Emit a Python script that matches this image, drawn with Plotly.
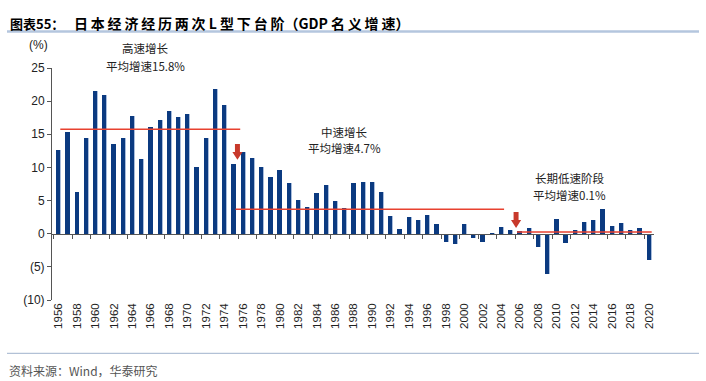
import plotly.graph_objects as go

years = list(range(1956, 2021))
growth = [12.6, 15.3, 6.3, 14.4, 21.5, 20.9, 13.5, 14.4, 17.7, 11.3,
          16.1, 17.2, 18.5, 17.6, 18.0, 10.0, 14.5, 21.9, 19.4, 10.5,
          12.3, 11.4, 10.1, 8.5, 9.6, 7.6, 5.1, 4.1, 6.1, 7.4,
          4.9, 3.85, 7.6, 7.8, 7.8, 6.3, 2.6, 0.7, 2.5, 2.1,
          2.75, 1.45, -1.3, -1.55, 1.45, -0.65, -1.3, -0.1, 1.0, 0.6,
          0.45, 0.8, -2.0, -6.1, 2.2, -1.4, 0.6, 1.7, 2.05, 3.7,
          1.2, 1.6, 0.6, 0.9, -4.0]

# period averages (start year, end year, displayed level)
avg_start = [1956.2, 1975.2, 2005.7]
avg_end = [1975.7, 2004.3, 2020.3]
avg_level = [15.75, 3.7, 0.25]

# stage labels
stage_names = ["高速增长", "中速增长", "长期低速阶段"]
stage_avgs = ["平均增速15.8%", "平均增速4.7%", "平均增速0.1%"]

# turning-point arrows (year, top, tip)
arrow_x = [1975.4, 2005.6]
arrow_top = [13.55, 3.27]
arrow_tip = [11.14, 0.86]

ytick_vals = [-10, -5, 0, 5, 10, 15, 20, 25]
ytick_text = ["(10)", "(5)", "0", "5", "10", "15", "20", "25"]
xtick_vals = list(range(1956, 2021, 2))

W, H = 706, 381
ML, MR, MT, MB = 52, 52, 68, 81
PW, PH = W - ML - MR, H - MT - MB


def px(x):
    return (x - ML) / PW


def py(y):
    return (H - MB - y) / PH


# pixel anchors for the stage labels (layout only)
stage_px = [145, 344, 569]
stage_py1 = [48, 131.5, 178]
stage_py2 = [66, 148, 195]

FONT = "Liberation Sans, Arial, Noto Sans CJK SC"
CJK = "Noto Sans CJK SC, Liberation Sans"

fig = go.Figure()

# light shadow edge of bars
fig.add_trace(go.Bar(x=years, y=growth, marker=dict(color="#A9BDDC", line=dict(width=0)),
                     width=0.48, offset=-0.20, hoverinfo="skip", showlegend=False))
fig.add_trace(go.Bar(x=years, y=growth, marker=dict(color="#0B3A80", line=dict(width=0)),
                     width=0.46, offset=-0.26, showlegend=False))

for s, e, lv in zip(avg_start, avg_end, avg_level):
    fig.add_trace(go.Scatter(x=[s, e], y=[lv, lv], mode="lines",
                             line=dict(color="#E8412F", width=1.5),
                             hoverinfo="skip", showlegend=False))

# invisible trace for the bottom label axis
fig.add_trace(go.Scatter(x=years, y=growth, xaxis="x2", mode="markers",
                         marker=dict(opacity=0), hoverinfo="skip", showlegend=False))

shapes = []
for ax_, top, tip in zip(arrow_x, arrow_top, arrow_tip):
    hs, hh = 0.27, 0.55
    neck = tip + (top - tip) * 0.5
    path = (f"M {ax_-hs},{top} L {ax_+hs},{top} L {ax_+hs},{neck} L {ax_+hh},{neck} "
            f"L {ax_},{tip} L {ax_-hh},{neck} L {ax_-hs},{neck} Z")
    shapes.append(dict(type="path", xref="x", yref="y", path=path,
                       fillcolor="#C8392B", line=dict(width=0)))

# separator lines
shapes.append(dict(type="line", xref="paper", yref="paper", x0=px(7), x1=px(699),
                   y0=py(31.5), y1=py(31.5), line=dict(color="#B4C6DE", width=2.5)))
shapes.append(dict(type="line", xref="paper", yref="paper", x0=px(7), x1=px(699),
                   y0=py(353.3), y1=py(353.3), line=dict(color="#9FB2CC", width=1)))

annotations = []


def label(x, y, text, font, xanchor="center"):
    annotations.append(dict(x=px(x), y=py(y), xref="paper", yref="paper", text=text,
                            xanchor=xanchor, yanchor="middle", showarrow=False, font=font))


for n, a, x, y1, y2 in zip(stage_names, stage_avgs, stage_px, stage_py1, stage_py2):
    label(x, y1, n, dict(family=CJK, size=11.5, color="#222222"))
    label(x, y2, a, dict(family=CJK, size=11.5, color="#222222"))

TS = "\u2009"
title_main = (TS.join("日本经济经历两次") + " L " + TS.join("型下台阶") + "（GDP "
              + TS.join("名义增速") + "）")

label(38, 45, "(%)", dict(family=FONT, size=12, color="#222222"))
label(8, 23, "<b>图表55：</b>", dict(family=CJK, size=13, color="#000000"), "left")
label(72, 23, "<b>" + title_main + "</b>", dict(family=CJK, size=14, color="#000000"), "left")
label(7, 371, "资料来源：Wind，华泰研究", dict(family=CJK, size=12, color="#555555"), "left")

fig.update_layout(
    width=W, height=H,
    margin=dict(l=ML, r=MR, t=MT, b=MB, pad=0),
    paper_bgcolor="white", plot_bgcolor="white",
    barmode="overlay", bargap=0,
    font=dict(family=FONT, size=12, color="#222222"),
    shapes=shapes, annotations=annotations,
    xaxis=dict(range=[1955.3, 2020.55], anchor="free", position=10 / 35,
               showline=True, linecolor="#555555", linewidth=1,
               tickmode="linear", tick0=1955.5, dtick=2, ticks="outside",
               ticklen=4, tickcolor="#555555", showticklabels=False,
               showgrid=False, zeroline=False),
    xaxis2=dict(matches="x", overlaying="x", anchor="y", side="bottom",
                tickmode="array", tickvals=xtick_vals, ticktext=[str(v) for v in xtick_vals],
                tickangle=-90, ticks="", showline=False, showgrid=False, zeroline=False,
                tickfont=dict(family=FONT, size=11.5, color="#222222")),
    yaxis=dict(range=[-10, 25], tickmode="array", tickvals=ytick_vals, ticktext=ytick_text,
               showline=True, linecolor="#555555", linewidth=1, ticks="outside",
               ticklen=4, tickcolor="#555555", showgrid=False, zeroline=False,
               tickfont=dict(family=FONT, size=12, color="#222222")),
)

fig.write_html("out.html", config={"displayModeBar": False},
               post_script="document.body.style.margin='0';")
